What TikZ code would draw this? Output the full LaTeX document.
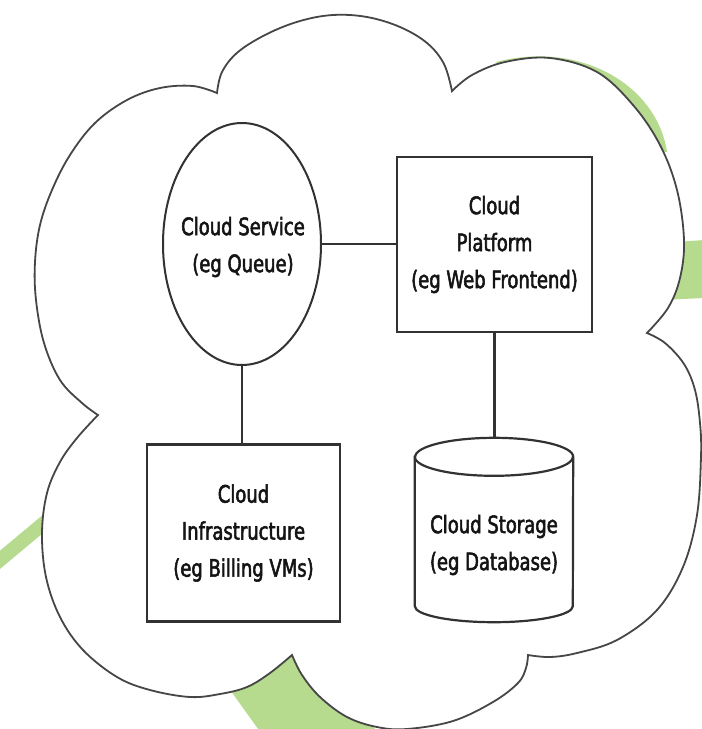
\documentclass[tikz,border=0pt]{standalone}
\usepackage{fontspec}
\newfontfamily\lblfont{DejaVu Sans}[FakeStretch=0.75,FakeBold=2.2]
\usetikzlibrary{shapes.geometric,calc}
\definecolor{swoosh}{RGB}{183,219,142}
\definecolor{inkline}{RGB}{50,50,50}
\definecolor{cloudline}{RGB}{70,70,70}
\begin{document}
\begin{tikzpicture}[x=1pt,y=-1pt,
  lbl/.style={font=\lblfont\fontsize{24}{37}\selectfont, text=black!92, align=center},
  boxshape/.style={draw=inkline, line width=2.4pt, fill=white, inner sep=0pt, rectangle},
  ovalshape/.style={draw=inkline, line width=2pt, fill=white, inner sep=0pt, ellipse},
  link/.style={draw=inkline, line width=2.2pt},
  cloudstroke/.style={draw=cloudline, line width=1.8pt, fill=white, line join=miter},
  band/.style={fill=swoosh}]
\clip (0,0) rectangle (702,729);
\fill[white] (0,0) rectangle (702,729);

% green swoosh pieces behind the cloud
\draw[swoosh, line width=14pt] (-5,564) -- (62,508);
\fill[band] (228,687) -- (266,740) -- (385,740) -- (300,645) -- cycle;
\fill[band] (496,62) .. controls (580,40) and (657,85) .. (667,152) -- (640,150) -- (520,85) -- cycle;
\fill[band] (660,243) -- (705,240) -- (705,298) -- (660,300) -- cycle;

% cloud outline
\path[cloudstroke]
  plot[smooth, tension=0.6] coordinates {(217,93) (222,72) (238,52) (267,34) (300,21) (333,15) (367,17) (400,27) (427,43) (444,64) (452,91)}
  -- plot[smooth, tension=0.6] coordinates {(452,91) (472,75) (505,62) (550,58) (597,72) (633,105) (660,145) (677,190) (684,240) (680,278) (668,308) (647,333)}
  -- plot[smooth, tension=0.6] coordinates {(647,333) (665,343) (684,364) (695,390) (700,423) (701,457) (697,515) (683,567) (657,610) (617,640) (577,653) (550,657) (528,655)}
  -- plot[smooth, tension=0.6] coordinates {(528,655) (526,668) (518,683) (493,702) (453,721) (407,729) (377,727) (347,717) (320,697) (302,675) (292,655)}
  -- plot[smooth, tension=0.6] coordinates {(292,655) (270,673) (247,687) (220,694) (190,697) (150,690) (117,677) (83,650) (60,617) (46,577) (42,533) (47,493) (60,462) (77,438) (98,415)}
  -- plot[smooth, tension=0.6] coordinates {(98,415) (82,403) (60,380) (44,343) (36,300) (35,262) (40,225) (52,190) (70,155) (95,123) (127,100) (160,88) (193,86) (217,93)}
  -- cycle;

% nodes
\node[ovalshape, minimum width=158pt, minimum height=242pt] (svc) at (242,244) {};
\node[lbl] (svctext) at (243,247) {Cloud Service\\(eg Queue)};
\node[boxshape, minimum width=195pt, minimum height=175pt, lbl] (plat) at (494.5,244.5) {Cloud\\Platform\\(eg Web Frontend)};
\node[boxshape, minimum width=193pt, minimum height=177pt, lbl] (infra) at (243.5,533) {Cloud\\Infrastructure\\(eg Billing VMs)};
\node[inner sep=0pt, minimum width=158pt, minimum height=184pt] (stor) at (494,530) {};

% cylinder for storage
\path[draw=inkline, line width=2.2pt, fill=white]
  ($(stor.north west)+(0,19)$) -- ($(stor.south west)+(0,-16)$)
  arc[start angle=180, end angle=0, x radius=79, y radius=16]
  -- ($(stor.north east)+(0,19)$)
  arc[start angle=0, end angle=-180, x radius=79, y radius=19] -- cycle;
\draw[inkline, line width=2.2pt] ($(stor.north west)+(0,19)$) arc[start angle=180, end angle=0, x radius=79, y radius=19];
\node[lbl] (stortext) at (494,545) {Cloud Storage\\(eg Database)};

% connectors
\draw[link] (svc.east) -- (svc.east -| plat.west);
\draw[link] (svc.south) -- (svc.south |- infra.north);
\draw[link] (plat.south) -- (plat.south |- stor.north);
\end{tikzpicture}
\end{document}
